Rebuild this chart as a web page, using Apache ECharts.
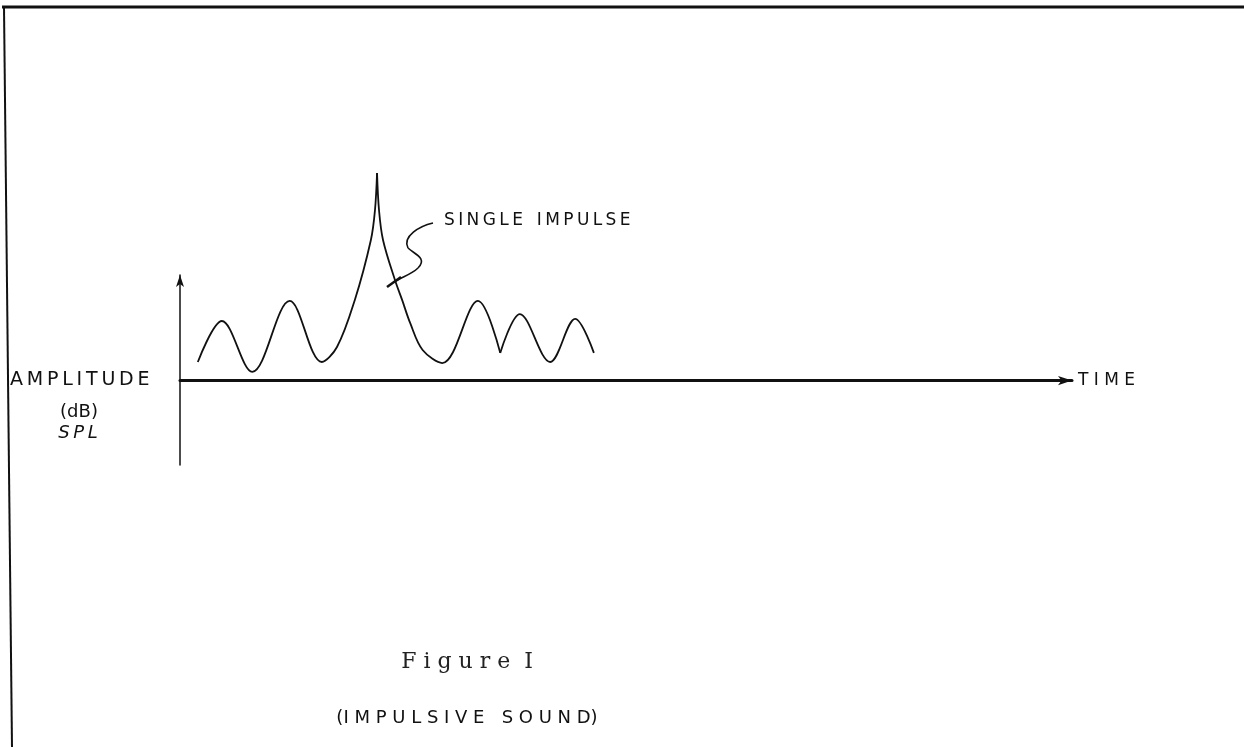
<!DOCTYPE html>
<html>
<head>
<meta charset="utf-8">
<title>Figure I - Impulsive sound</title>
<script src="https://cdn.jsdelivr.net/npm/echarts@6/dist/echarts.min.js"></script>
<style>
  html, body { margin: 0; padding: 0; background: #fff; }
  #chart { width: 1244px; height: 747px; }
</style>
</head>
<body>
<div id="chart"></div>
<script>
// [time, level] pairs; split at the cusps so they stay sharp
var riseToPeak = [
    [2.0, 8.8], [4.7, 28.2], [8.1, 4.1], [12.3, 37.7], [15.9, 8.8],
    [17.6, 15.9], [19.6, 38.2], [21.4, 66.6], [21.86, 80.8], [22.09, 98.3]
];
var fallFromPeak = [
    [22.09, 98.3], [22.31, 80.8], [22.76, 66.6], [24.1, 47.6], [24.9, 38.2],
    [25.8, 27.3], [27.2, 14.5], [29.4, 8.3], [33.4, 37.7], [35.9, 13.1]
];
var tailRipple = [
    [35.9, 13.1], [38.1, 31.5], [41.5, 8.8], [44.3, 29.2], [46.4, 13.1]
];
var segments = [riseToPeak, fallFromPeak, tailRipple];

var timeRange = [0, 100];
var levelRange = [-40, 50];

var ink = '#111';
var letterFont = '"DejaVu Sans", sans-serif';

function waveSeries(data) {
    return {
        type: 'line',
        data: data,
        smooth: 0.35,
        showSymbol: false,
        clip: false,
        silent: true,
        lineStyle: { color: ink, width: 1.8 }
    };
}

var chart = echarts.init(document.getElementById('chart'));

chart.setOption({
    backgroundColor: '#fff',
    animation: false,
    grid: { left: 180, right: 172, top: 275, bottom: 282 },
    xAxis: {
        type: 'value',
        min: timeRange[0],
        max: timeRange[1],
        name: 'T I M E',
        nameLocation: 'end',
        nameGap: 6,
        nameTextStyle: { color: ink, fontFamily: letterFont, fontSize: 17, verticalAlign: 'middle' },
        axisLine: {
            onZero: true,
            symbol: ['none', 'arrow'],
            symbolSize: [7, 14],
            lineStyle: { color: ink, width: 3 }
        },
        axisTick: { show: false },
        axisLabel: { show: false },
        splitLine: { show: false }
    },
    yAxis: {
        type: 'value',
        min: levelRange[0],
        max: levelRange[1],
        axisLine: {
            onZero: true,
            symbol: ['none', 'arrow'],
            symbolSize: [6, 12],
            lineStyle: { color: ink, width: 1.5 }
        },
        axisTick: { show: false },
        axisLabel: { show: false },
        splitLine: { show: false }
    },
    series: segments.map(waveSeries),
    graphic: [
        // page frame of the scanned sheet
        { type: 'line', shape: { x1: 2, y1: 7, x2: 1244, y2: 7 }, style: { stroke: ink, lineWidth: 3 } },
        { type: 'line', shape: { x1: 4, y1: 7, x2: 12, y2: 747 }, style: { stroke: ink, lineWidth: 2 } },
        // y axis caption
        {
            type: 'text', x: 10, y: 380,
            style: { text: 'A\u2009M\u2009P\u2009L\u2009I\u2009T\u2009U\u2009D\u2009E', fill: ink, font: '19px ' + letterFont, verticalAlign: 'middle' }
        },
        {
            type: 'text', x: 79, y: 412,
            style: { text: '(dB)', fill: ink, font: '18px ' + letterFont, align: 'center', verticalAlign: 'middle' }
        },
        {
            type: 'text', x: 78, y: 433,
            style: { text: 'S\u2009P\u2009L', fill: ink, font: 'italic 18px ' + letterFont, align: 'center', verticalAlign: 'middle' }
        },
        // annotation with its leader
        {
            type: 'text', x: 444, y: 221,
            style: { text: 'S\u2009I\u2009N\u2009G\u2009L\u2009E\u2002 I\u2009M\u2009P\u2009U\u2009L\u2009S\u2009E', fill: ink, font: '17px ' + letterFont, verticalAlign: 'middle' }
        },
        {
            type: 'bezierCurve',
            shape: { x1: 433, y1: 223, cpx1: 420, cpy1: 226, cpx2: 402, cpy2: 236, x2: 408, y2: 248 },
            style: { stroke: ink, lineWidth: 1.6, fill: null }
        },
        {
            type: 'bezierCurve',
            shape: { x1: 408, y1: 248, cpx1: 414, cpy1: 254, cpx2: 428, cpy2: 258, x2: 418, y2: 268 },
            style: { stroke: ink, lineWidth: 1.6, fill: null }
        },
        {
            type: 'bezierCurve',
            shape: { x1: 418, y1: 268, cpx1: 412, cpy1: 274, cpx2: 402, cpy2: 277, x2: 396, y2: 281 },
            style: { stroke: ink, lineWidth: 1.6, fill: null }
        },
        { type: 'line', shape: { x1: 387, y1: 287, x2: 401, y2: 277 }, style: { stroke: ink, lineWidth: 2.5 } },
        // caption
        {
            type: 'text', x: 467, y: 662,
            style: { text: 'F i g u r e  I', fill: '#222', font: '22px "DejaVu Serif", serif', align: 'center', verticalAlign: 'middle' }
        },
        {
            type: 'text', x: 467, y: 718,
            style: { text: '(I M P U L S I V E   S O U N D)', fill: ink, font: '18px ' + letterFont, align: 'center', verticalAlign: 'middle' }
        }
    ]
});
</script>
</body>
</html>
